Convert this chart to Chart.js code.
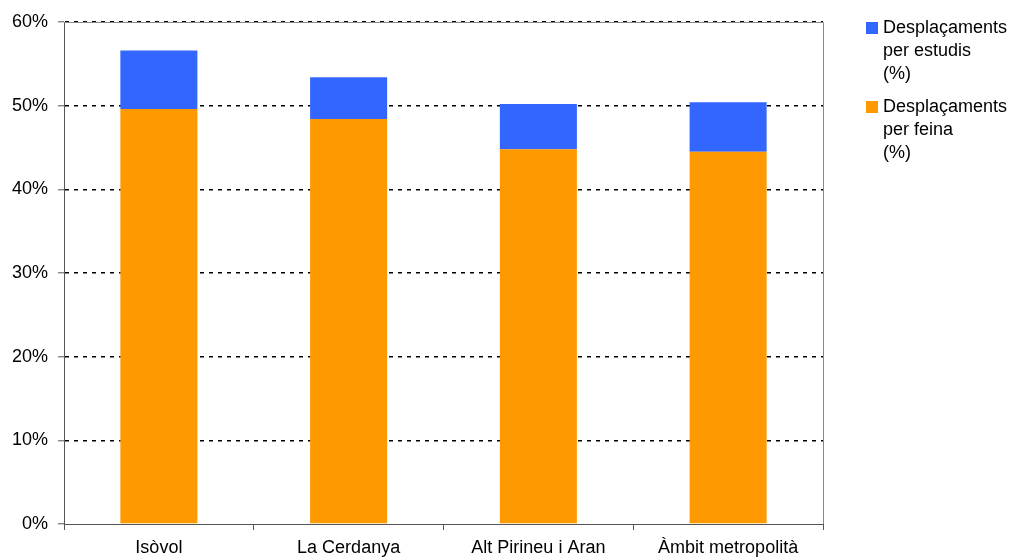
<!DOCTYPE html>
<html>
<head>
<meta charset="utf-8">
<script src="https://cdn.jsdelivr.net/npm/chart.js@4/dist/chart.umd.min.js"></script>
<style>
  html, body { margin: 0; padding: 0; background: #fff; }
  #wrap { position: relative; width: 1016px; height: 560px; }
  #legend { position: absolute; left: 866px; top: 16px; font-family: 'Liberation Sans', Arial, sans-serif; font-size: 18px; color: #000; line-height: 23px; }
  .item { position: relative; padding-left: 17px; height: 79px; }
  .box { position: absolute; left: 0; top: 6px; width: 12px; height: 12px; }
</style>
</head>
<body>
<div id="wrap">
  <canvas id="chart" width="1016" height="560"></canvas>
  <div id="legend"></div>
</div>
<script>
const categories = ['Isòvol', 'La Cerdanya', 'Alt Pirineu i Aran', 'Àmbit metropolità'];
const feina = [49.6, 48.4, 44.8, 44.5];
const estudis = [7.0, 5.0, 5.4, 5.9];
const yTicks = [0, 10, 20, 30, 40, 50, 60];

const seriesLabels = ['Desplaçaments per feina (%)', 'Desplaçaments per estudis (%)'];
const legendLines = [
    ['Desplaçaments', 'per feina', '(%)'],
    ['Desplaçaments', 'per estudis', '(%)']
];
const colors = ['#FF9900', '#3366FF'];

// plot frame on top and right
const framePlugin = {
    id: 'frame',
    afterDraw(chart) {
        const a = chart.chartArea, c = chart.ctx;
        c.save();
        c.strokeStyle = '#8a8a8a';
        c.lineWidth = 1;
        c.beginPath();
        c.moveTo(a.left, a.top + 0.5);
        c.lineTo(a.right + 0.5, a.top + 0.5);
        c.lineTo(a.right + 0.5, a.bottom);
        c.stroke();
        c.restore();
    }
};

const font = { family: "'Liberation Sans', Arial, sans-serif", size: 18 };

new Chart(document.getElementById('chart'), {
    type: 'bar',
    data: {
        labels: categories,
        datasets: [
            { label: seriesLabels[0], data: feina, backgroundColor: colors[0] },
            { label: seriesLabels[1], data: estudis, backgroundColor: colors[1] }
        ]
    },
    options: {
        responsive: false,
        animation: false,
        layout: { padding: { left: 0, right: 193, top: 22, bottom: 0 } },
        datasets: { bar: { categoryPercentage: 1, barPercentage: 0.406 } },
        plugins: { legend: { display: false }, tooltip: { enabled: false } },
        scales: {
            x: {
                stacked: true,
                afterFit: s => { s.height = 36; },
                grid: { drawOnChartArea: false, drawTicks: true, tickLength: 6, tickColor: '#555', offset: true },
                border: { color: '#555', width: 1 },
                ticks: { color: '#000', font: font, padding: 7, maxRotation: 0 }
            },
            y: {
                stacked: true,
                min: 0, max: 60,
                afterFit: s => { s.width = 64; },
                afterBuildTicks: s => { s.ticks = yTicks.map(v => ({ value: v })); },
                grid: {
                    color: c => c.tick && c.tick.value === 0 ? 'rgba(0,0,0,0)' : '#000',
                    lineWidth: 1.6,
                    drawTicks: true, tickLength: 6, tickColor: '#555', tickWidth: 1, tickBorderDash: []
                },
                border: { color: '#555', width: 1, dash: [4, 5] },
                ticks: { color: '#000', font: font, padding: 10, callback: v => v + '%' }
            }
        }
    },
    plugins: [framePlugin]
});

// legend, reversed like the stack order
const lg = document.getElementById('legend');
for (let i = seriesLabels.length - 1; i >= 0; i--) {
    const d = document.createElement('div');
    d.className = 'item';
    d.innerHTML = '<span class="box" style="background:' + colors[i] + '"></span>' + legendLines[i].join('<br>');
    lg.appendChild(d);
}
</script>
</body>
</html>
